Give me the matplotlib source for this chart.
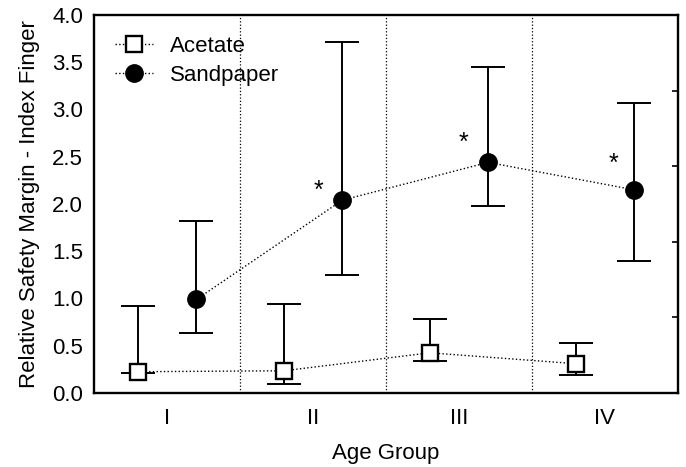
import matplotlib
matplotlib.use("Agg")
import matplotlib.pyplot as plt
import numpy as np

plt.rcParams['font.family'] = ['Liberation Sans', 'DejaVu Sans']

groups = ["I", "II", "III", "IV"]

acetate = [0.225, 0.235, 0.425, 0.31]
acetate_hi = [0.92, 0.94, 0.78, 0.525]
acetate_lo = [0.21, 0.09, 0.34, 0.19]

sandpaper = [0.99, 2.04, 2.44, 2.15]
sandpaper_hi = [1.82, 3.71, 3.45, 3.07]
sandpaper_lo = [0.63, 1.245, 1.98, 1.40]

# significance asterisks (group index, x shift, height)
star_groups = [1, 2, 3]
star_dx = [-0.16, -0.17, -0.14]
star_y = [2.22, 2.73, 2.50]

x = np.arange(1, len(groups) + 1)
off = 0.2

fig = plt.figure(figsize=(6.86, 4.67), dpi=100)
ax = fig.add_axes([0.1375, 0.1585, 0.8505, 0.8095])

a_err = [np.array(acetate) - np.array(acetate_lo), np.array(acetate_hi) - np.array(acetate)]
s_err = [np.array(sandpaper) - np.array(sandpaper_lo), np.array(sandpaper_hi) - np.array(sandpaper)]

ax.errorbar(x - off, acetate, yerr=a_err, fmt='none', ecolor='black',
            elinewidth=1.4, capsize=12.5, capthick=1.4, zorder=2)
ax.errorbar(x + off, sandpaper, yerr=s_err, fmt='none', ecolor='black',
            elinewidth=1.4, capsize=12.5, capthick=1.4, zorder=2)

ax.plot(x - off, acetate, linestyle=':', color='black', linewidth=1.0,
        marker='s', markersize=11.5, markerfacecolor='white',
        markeredgecolor='black', markeredgewidth=1.7, label='Acetate', zorder=3)
ax.plot(x + off, sandpaper, linestyle=':', color='black', linewidth=1.0,
        marker='o', markersize=12.5, markerfacecolor='black',
        markeredgecolor='black', label='Sandpaper', zorder=3)

fs_star = 18
for i, dx, sy in zip(star_groups, star_dx, star_y):
    ax.annotate('*', xy=(x[i] + off + dx, sy), xytext=(0, -0.58 * fs_star),
                textcoords='offset points', ha='center', va='baseline',
                fontsize=fs_star)

for d in x[:-1] + 0.5:
    ax.axvline(d, color='black', linestyle=':', linewidth=0.9, zorder=1)

ax.set_xlim(0.5, 4.5)
ax.set_ylim(0, 4.0)
ax.set_xticks(x)
ax.set_xticklabels(groups)
yt = np.arange(0, 4.01, 0.5)
ax.set_yticks(yt)
ax.set_yticklabels([f"{v:.1f}" for v in yt])
ax.tick_params(axis='x', length=0, labelsize=16, pad=11)
ax.tick_params(axis='y', length=0, labelsize=16, pad=8)

# small inward ticks on the right spine
ax2 = ax.twinx()
ax2.set_ylim(0, 4.0)
ax2.set_yticks([0.8, 1.6, 2.4, 3.2])
ax2.set_yticklabels([])
ax2.tick_params(axis='y', direction='in', length=4, width=1.2)
for s in ax2.spines.values():
    s.set_visible(False)

for s in ax.spines.values():
    s.set_linewidth(1.7)

ax.set_xlabel("Age Group", fontsize=16, labelpad=10)
ax.set_ylabel("Relative Safety Margin - Index Finger", fontsize=16, labelpad=9)

leg = ax.legend(loc='upper left', frameon=False, fontsize=16,
                handlelength=1.67, borderaxespad=0.55, handletextpad=0.77,
                labelspacing=0.35, borderpad=0.4)

plt.savefig("out.png", dpi=100)
plt.close()
